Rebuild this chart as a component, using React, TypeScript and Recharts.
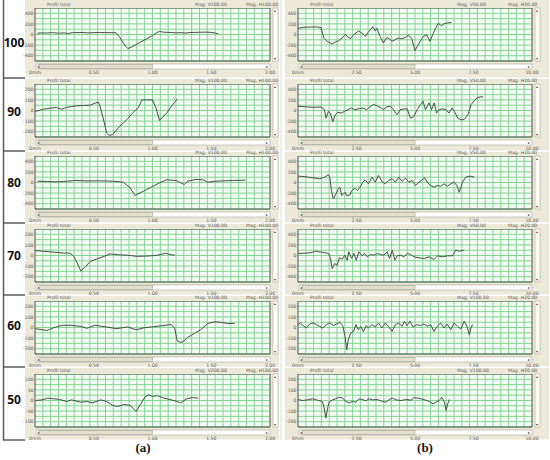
import React from 'react';
import { LineChart, Line, XAxis, YAxis, CartesianGrid, ReferenceArea } from 'recharts';

// profile traces as [position mm, height], column (a) = 0..2 mm, column (b) = 0..10 mm
const trace100a: [number, number][] = [
  [0.02, 25], [0.05, 30], [0.1, 28], [0.15, 35], [0.2, 25], [0.25, 30], [0.28, 20], [0.32, 35], [0.4, 38],
  [0.45, 30], [0.5, 35], [0.55, 38], [0.6, 35], [0.65, 35], [0.69, 30], [0.72, -50], [0.75, -150], [0.77, -220],
  [0.79, -265], [0.82, -240], [0.86, -190], [0.9, -140], [0.95, -80], [1.0, -20], [1.04, 40], [1.06, 57],
  [1.09, 45], [1.12, 40], [1.16, 38], [1.2, 30], [1.24, 35], [1.28, 28], [1.32, 38], [1.36, 40], [1.4, 42],
  [1.45, 45], [1.5, 40], [1.53, 30], [1.56, 10],
];
const trace90a: [number, number][] = [
  [0, -9], [0.07, 12], [0.13, 22], [0.18, 28], [0.23, 12], [0.27, 31], [0.31, 37], [0.35, 44], [0.41, 47],
  [0.47, 50], [0.51, 69], [0.54, 78], [0.55, 53], [0.58, -72], [0.61, -212], [0.63, -234], [0.66, -228],
  [0.72, -150], [0.78, -87], [0.83, -25], [0.88, 28], [0.91, 100], [0.95, 100], [1.0, 100], [1.03, 22],
  [1.06, -94], [1.12, -25], [1.17, 53], [1.21, 109],
];
const trace80a: [number, number][] = [
  [0.02, 25], [0.1, 20], [0.17, 13], [0.24, 19], [0.35, 38], [0.45, 30], [0.55, 32], [0.66, 25], [0.75, 6],
  [0.81, -101], [0.85, -247], [0.95, -133], [1.06, -6], [1.12, 51], [1.2, 38], [1.24, -6], [1.27, -38],
  [1.3, 25], [1.37, 57], [1.43, 51], [1.47, 6], [1.54, 25], [1.68, 38], [1.79, 44],
];
const trace70a: [number, number][] = [
  [0, 47], [0.07, 40], [0.16, 31], [0.24, 24], [0.3, 21], [0.33, -8], [0.36, -73], [0.39, -147], [0.43, -105],
  [0.47, -56], [0.53, -31], [0.59, -8], [0.64, 15], [0.7, 8], [0.79, 2], [0.87, -8], [0.96, -5], [1.04, 2],
  [1.11, 21], [1.16, 8], [1.19, 2],
];
const trace60a: [number, number][] = [
  [0, -11], [0.06, -21], [0.1, -28], [0.16, -2], [0.23, 21], [0.3, 21], [0.39, 11], [0.44, -8], [0.51, 21],
  [0.61, 5], [0.69, -11], [0.79, 5], [0.86, -21], [0.93, -2], [1.04, 11], [1.16, 28], [1.19, -11], [1.21, -126],
  [1.24, -142], [1.27, -126], [1.3, -93], [1.36, -54], [1.41, -21], [1.47, 38], [1.53, 54], [1.59, 47],
  [1.64, 38], [1.7, 38],
];
const trace50a: [number, number][] = [
  [0, 0], [0.06, 3], [0.11, 11], [0.16, 8], [0.21, 5], [0.27, -5], [0.31, 3], [0.39, -8], [0.44, -5],
  [0.49, -11], [0.56, 3], [0.61, -5], [0.66, -23], [0.7, -28], [0.76, -19], [0.81, -23], [0.86, -52],
  [0.9, -16], [0.94, 19], [0.97, 27], [1.0, 19], [1.04, 23], [1.1, 11], [1.16, 3], [1.21, -5], [1.24, -11],
  [1.29, 8], [1.34, 14], [1.39, 11],
];

const trace100b: [number, number][] = [
  [0, 117], [0.25, 136], [0.54, 142], [0.82, 142], [0.99, 130], [1.1, -68], [1.25, -130], [1.46, -179],
  [1.6, -142], [1.74, -117], [1.88, -68], [2.03, 6], [2.1, -37], [2.24, -80], [2.38, -6], [2.59, 68],
  [2.73, 25], [2.88, -37], [3.02, 56], [3.2, 148], [3.3, 68], [3.37, 117], [3.51, -37], [3.65, -160],
  [3.8, -56], [3.91, -80], [4.01, -130], [4.15, -99], [4.29, -68], [4.43, -80], [4.58, -56], [4.72, -6],
  [4.86, -80], [5.0, -302], [5.14, -191], [5.35, -37], [5.5, -6], [5.64, -130], [5.78, 25], [5.99, 210],
  [6.13, 167], [6.27, 210], [6.56, 228],
];
const trace90b: [number, number][] = [
  [0, 81], [0.4, 68], [0.69, 61], [0.98, 68], [1.13, 16], [1.2, -145], [1.3, -16], [1.39, -61], [1.49, -210],
  [1.59, -81], [1.7, -35], [1.85, -48], [1.99, -16], [2.14, 16], [2.28, 48], [2.42, 16], [2.57, 29], [2.78, 48],
  [2.93, 16], [3.07, 68], [3.22, 113], [3.36, 94], [3.51, 61], [3.65, 16], [3.8, 68], [3.94, 81], [4.08, 16],
  [4.23, -81], [4.37, 16], [4.56, 29], [4.66, 35], [4.81, -145], [4.95, -113], [5.09, 16], [5.24, 113],
  [5.34, 177], [5.45, 16], [5.6, 145], [5.71, 16], [5.82, 145], [5.92, -48], [6.03, 16], [6.18, 29], [6.32, 16],
  [6.46, -48], [6.58, 48], [6.68, -16], [6.83, -145], [6.97, -177], [7.11, -165], [7.26, -81], [7.4, 113],
  [7.55, 197], [7.69, 248], [7.91, 261],
];
const trace80b: [number, number][] = [
  [0, 120], [0.22, 114], [0.43, 101], [0.65, 89], [0.93, 70], [1.15, 101], [1.29, 146], [1.36, 101],
  [1.43, -152], [1.51, -310], [1.62, -215], [1.72, -120], [1.79, -89], [1.87, -247], [2.01, -184], [2.08, -247],
  [2.22, -234], [2.3, -152], [2.44, -108], [2.54, -152], [2.65, -89], [2.77, 6], [2.87, 51], [3.01, -25],
  [3.16, 101], [3.3, 6], [3.44, 133], [3.59, 19], [3.73, -25], [3.87, 38], [4.02, 70], [4.16, 6], [4.3, 101],
  [4.45, 19], [4.59, 82], [4.73, 6], [4.88, 38], [5.02, -57], [5.16, 6], [5.31, 51], [5.41, 89], [5.52, 6],
  [5.67, -57], [5.81, -89], [5.95, -57], [6.1, -70], [6.24, -25], [6.38, -70], [6.53, -25], [6.67, 6],
  [6.79, -57], [6.89, -184], [7.03, 6], [7.17, 101], [7.36, 120], [7.53, 101],
];
const trace70b: [number, number][] = [
  [0, 38], [0.31, 44], [0.6, 57], [0.74, 82], [0.89, 70], [1.1, 57], [1.31, 38], [1.39, -57], [1.46, -247],
  [1.57, -152], [1.67, -184], [1.77, -44], [1.89, -70], [2.0, 6], [2.1, -89], [2.17, 70], [2.29, -57],
  [2.39, 38], [2.49, -89], [2.6, 70], [2.74, -6], [2.86, 38], [2.96, -25], [3.1, 19], [3.24, 6], [3.39, 38],
  [3.53, 19], [3.67, 6], [3.81, 70], [3.91, -57], [4.03, 101], [4.14, -89], [4.24, -6], [4.39, 6], [4.53, -25],
  [4.67, 38], [4.81, 19], [4.96, -25], [5.17, -44], [5.39, -57], [5.6, -25], [5.81, -76], [5.96, -6],
  [6.17, -25], [6.39, -6], [6.6, -6], [6.74, 101], [6.89, 82], [7.1, 101],
];
const trace60b: [number, number][] = [
  [0, 27], [0.1, 43], [0.22, 18], [0.36, -5], [0.5, 33], [0.65, 43], [0.79, 27], [0.93, 11], [1.05, -5],
  [1.22, 27], [1.36, 43], [1.51, 18], [1.65, 33], [1.79, 49], [1.91, 18], [2.01, -84], [2.08, -212],
  [2.15, -116], [2.25, -53], [2.37, -37], [2.48, 27], [2.58, -21], [2.68, 11], [2.8, -37], [2.91, 18],
  [3.01, -5], [3.16, 27], [3.3, 5], [3.44, 43], [3.59, -5], [3.73, 43], [3.87, 11], [4.02, -37], [4.16, 27],
  [4.3, 43], [4.45, 11], [4.55, 59], [4.66, 18], [4.78, 59], [4.92, 5], [5.09, 27], [5.24, 18], [5.38, 33],
  [5.52, 11], [5.67, 27], [5.81, -37], [5.95, 11], [6.1, 43], [6.24, -5], [6.38, 33], [6.53, -21], [6.67, 43],
  [6.81, 11], [6.96, -14], [7.1, 59], [7.22, 11], [7.32, -68], [7.39, -5], [7.46, 27],
];
const trace50b: [number, number][] = [
  [0, 9], [0.19, 0], [0.4, 6], [0.61, 16], [0.83, 3], [1.04, -9], [1.11, -62], [1.19, -166], [1.26, -78],
  [1.33, -16], [1.47, 6], [1.61, 16], [1.76, 31], [1.9, 25], [2.04, -9], [2.19, -22], [2.33, -9], [2.47, -16],
  [2.61, 16], [2.76, 9], [2.9, -3], [3.04, 16], [3.19, 6], [3.4, 9], [3.61, -9], [3.76, -16], [3.9, 9],
  [4.04, 22], [4.19, 6], [4.4, 0], [4.61, 9], [4.83, 3], [4.97, 28], [5.11, 22], [5.26, 16], [5.47, 3],
  [5.61, -9], [5.76, -31], [5.9, -16], [6.04, 0], [6.14, 31], [6.26, -16], [6.33, -94], [6.4, -31], [6.47, 9],
];

const rowNames = ['100', '90', '80', '70', '60', '50'];
const tracesA = [trace100a, trace90a, trace80a, trace70a, trace60a, trace50a];
const tracesB = [trace100b, trace90b, trace80b, trace70b, trace60b, trace50b];
const yLabelsA = [
  [400, 200, 0, -200, -400], [200, 100, 0, -100, -200], [400, 200, 0, -200, -400],
  [200, 100, 0, -100, -200], [200, 100, 0, -100, -200], [100, 50, 0, -50, -100],
];
const yLabelsB = [
  [400, 200, 0, -200, -400], [400, 200, 0, -200, -400], [400, 200, 0, -200, -400],
  [400, 200, 0, -200, -400], [200, 100, 0, -100, -200], [200, 100, 0, -100, -200],
];
const xLabelsA = ['0mm', '0.50', '1.00', '1.50', '2.00'];
const xLabelsB = ['0mm', '2.50', '5.00', '7.50', '10.00'];
const magA = ['V100.00', 'V100.00', 'V100.00', 'V100.00', 'V100.00', 'V200.00'];
const magB = ['V50.00', 'V50.00', 'V50.00', 'V50.00', 'V100.00', 'V100.00'];

// layout
const PH = 53;
const YW = 12;
const RM = 10;
const GRID_COLS = 30;
const rowTops = [8, 84, 156, 229, 301, 374];
const rowLines = [78, 151, 223, 295, 367, 440];
const labelY = [47, 116, 187, 260, 330, 404];
const cols = [
  { plotX: 35, plotW: 235, boxX: 25, boxW: 254, xMax: 2, xLabels: xLabelsA, mags: magA, h: 'H100.00' },
  { plotX: 298, plotW: 234, boxX: 285, boxW: 264, xMax: 10, xLabels: xLabelsB, mags: magB, h: 'H20.00' },
];
const tiny = { fontSize: 4.6, fill: '#5a5a5a', fontFamily: 'DejaVu Sans' };

const Profile = ({ trace, col, top, yLabels }: any) => {
  const yMax = yLabels[0] * 1.25;
  const yStep = (yLabels[0] - yLabels[1]) / 2;
  const yTicks: number[] = [];
  for (let v = -yMax; v <= yMax + 0.001; v += yStep) yTicks.push(v);
  const xTicks = col.xLabels.map((_: string, i: number) => (col.xMax * i) / (col.xLabels.length - 1));
  // fine grid columns of the instrument screen
  const vPoints: number[] = [];
  for (let i = 1; i < GRID_COLS; i++) vPoints.push(YW + (col.plotW * i) / GRID_COLS);
  const data = trace.map(([x, y]: [number, number]) => ({ x, y }));

  return (
    <div style={{ position: 'absolute', left: col.plotX - YW, top }}>
      <LineChart width={YW + col.plotW + RM} height={PH + 16} data={data}
        margin={{ top: 0, right: RM, bottom: 0, left: 0 }}>
        <CartesianGrid fill="#f4fbf2" stroke="#79d08c" strokeWidth={0.9} verticalPoints={vPoints} />
        <XAxis dataKey="x" type="number" domain={[0, col.xMax]} ticks={xTicks} interval={0} height={16}
          tickLine={false} axisLine={false} tickSize={0} tickMargin={0}
          tick={(p: any) => (
            <text x={p.x} y={p.y + 13} textAnchor="middle" {...tiny}>
              {col.xLabels[xTicks.indexOf(p.payload.value)]}
            </text>
          )} />
        <YAxis type="number" domain={[-yMax, yMax]} ticks={yTicks} interval={0} width={YW}
          tickLine={false} axisLine={false} tickSize={0} tickMargin={0}
          tick={(p: any) =>
            yLabels.includes(p.payload.value) ? (
              <text x={p.x - 1.5} y={p.y + 1.7} textAnchor="end" {...tiny}>{p.payload.value}</text>
            ) : <g />
          } />
        <ReferenceArea x1={0} x2={col.xMax} y1={-yMax} y2={yMax} fill="none" stroke="#4a534b"
          strokeWidth={1} ifOverflow="visible" />
        <Line dataKey="y" type="linear" stroke="#4b4b4b" strokeWidth={1} dot={false} isAnimationActive={false} />
      </LineChart>
    </div>
  );
};

const Backdrop = () => (
  <svg width={550} height={460} style={{ position: 'absolute', left: 0, top: 0 }}>
    {rowTops.map((pt, r) => {
      const top = r === 0 ? 0 : rowLines[r - 1] + 1;
      const h = rowLines[r] - top - 0.5;
      return cols.map((c, ci) => (
        <g key={`${r}-${ci}`}>
          <rect x={c.boxX} y={top} width={c.boxW} height={h} fill="#ece9d8" />
          <text x={c.plotX + 12} y={pt - 2.5} {...tiny}>Profil total</text>
          <text x={c.plotX + c.plotW - 75} y={pt - 2.5} {...tiny}>Mag. {c.mags[r]}</text>
          <text x={c.plotX + c.plotW - 24} y={pt - 2.5} {...tiny}>Mag. {c.h}</text>
          <rect x={c.plotX + 1} y={pt + PH + 3} width={c.plotW - 1} height={5} fill="#ffffff"
            stroke="#a8a89a" strokeWidth={0.6} />
          <rect x={c.plotX + 4} y={pt + PH + 3.5} width={c.plotW / 2 - 4} height={4} fill="#e2dfcd"
            stroke="#8e8e82" strokeWidth={0.5} />
          <text x={c.plotX + 2} y={pt + PH + 7} fontSize={4} fill="#444">◂</text>
          <text x={c.plotX + c.plotW - 4} y={pt + PH + 7} fontSize={4} fill="#444">▸</text>
          <rect x={c.plotX + c.plotW + 3} y={pt} width={5} height={PH} fill="#ffffff"
            stroke="#a8a89a" strokeWidth={0.6} />
          <text x={c.plotX + c.plotW + 3.8} y={pt + 4} fontSize={3.5} fill="#444">▴</text>
          <text x={c.plotX + c.plotW + 3.8} y={pt + PH - 1} fontSize={3.5} fill="#444">▾</text>
        </g>
      ));
    })}
    <line x1={3.5} y1={0} x2={3.5} y2={440} stroke="#5a5a5a" strokeWidth={1.5} />
    {rowLines.map((y) => (
      <line key={y} x1={3} x2={25} y1={y} y2={y} stroke="#5a5a5a" strokeWidth={1.5} />
    ))}
    <line x1={281} y1={0} x2={281} y2={440} stroke="#d6d6d6" strokeWidth={0.8} />
    {rowNames.map((n, r) => (
      <text key={n} x={14} y={labelY[r]} textAnchor="middle" fontSize={12} fontWeight="bold"
        fontFamily="Noto Sans" fill="#111">{n}</text>
    ))}
    <text x={143} y={452} textAnchor="middle" fontSize={13} fontWeight="bold" fontFamily="Liberation Serif" fill="#111">(a)</text>
    <text x={425} y={452} textAnchor="middle" fontSize={13} fontWeight="bold" fontFamily="Liberation Serif" fill="#111">(b)</text>
  </svg>
);

export default function App() {
  return (
    <div style={{ position: 'absolute', left: 0, top: 0, width: 550, height: 460, background: '#fff' }}>
      <Backdrop />
      {rowTops.map((pt, r) => (
        <React.Fragment key={r}>
          <Profile trace={tracesA[r]} col={cols[0]} top={pt} yLabels={yLabelsA[r]} />
          <Profile trace={tracesB[r]} col={cols[1]} top={pt} yLabels={yLabelsB[r]} />
        </React.Fragment>
      ))}
    </div>
  );
}
